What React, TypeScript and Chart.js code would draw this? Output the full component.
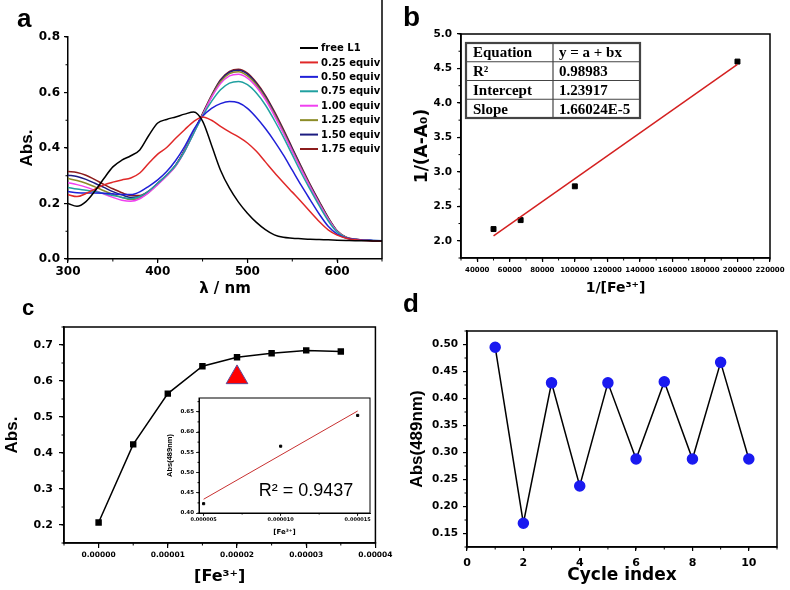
import React, { useEffect, useRef } from 'react';
import { Chart, registerables } from 'chart.js';

Chart.register(...registerables);

const SANS = '"DejaVu Sans", sans-serif';
const ARIAL = '"Liberation Sans", Arial, sans-serif';

// ---------- Panel a : UV-vis spectra ----------
const wavelengths = [300, 310, 320, 330, 340, 350, 360, 370, 380, 390, 400, 410, 420, 430, 440, 450, 460, 470, 480, 490, 500, 510, 520, 530, 540, 550, 560, 570, 580, 590, 600, 610, 620, 630, 640, 650];
const spectraLabels = ['free L1', '0.25 equiv', '0.50 equiv', '0.75 equiv', '1.00 equiv', '1.25 equiv', '1.50 equiv', '1.75 equiv'];
const spectraColors = ['#000000', '#e02828', '#2020d8', '#20a0a0', '#f040f0', '#8c8c28', '#1c1c80', '#8c1c1c'];
const absFreeL1 = [0.200, 0.190, 0.207, 0.245, 0.290, 0.332, 0.356, 0.372, 0.393, 0.445, 0.490, 0.503, 0.512, 0.522, 0.530, 0.497, 0.410, 0.320, 0.255, 0.205, 0.165, 0.132, 0.106, 0.087, 0.078, 0.075, 0.073, 0.071, 0.070, 0.069, 0.068, 0.067, 0.066, 0.066, 0.065, 0.065];
const abs025 = [0.232, 0.225, 0.236, 0.252, 0.267, 0.277, 0.285, 0.292, 0.310, 0.345, 0.378, 0.402, 0.435, 0.466, 0.495, 0.512, 0.500, 0.478, 0.458, 0.440, 0.418, 0.388, 0.350, 0.312, 0.276, 0.241, 0.206, 0.170, 0.135, 0.105, 0.086, 0.075, 0.069, 0.067, 0.065, 0.064];
const abs050 = [0.243, 0.239, 0.238, 0.238, 0.237, 0.235, 0.232, 0.232, 0.242, 0.262, 0.285, 0.315, 0.355, 0.405, 0.465, 0.514, 0.543, 0.560, 0.568, 0.563, 0.543, 0.510, 0.470, 0.425, 0.375, 0.320, 0.265, 0.213, 0.162, 0.118, 0.090, 0.076, 0.070, 0.068, 0.067, 0.066];
const abs075 = [0.258, 0.252, 0.248, 0.243, 0.236, 0.229, 0.222, 0.217, 0.225, 0.245, 0.273, 0.303, 0.338, 0.388, 0.452, 0.515, 0.568, 0.610, 0.634, 0.640, 0.628, 0.598, 0.555, 0.500, 0.440, 0.375, 0.310, 0.250, 0.192, 0.138, 0.097, 0.077, 0.070, 0.068, 0.067, 0.066];
const abs100 = [0.275, 0.268, 0.259, 0.247, 0.234, 0.222, 0.212, 0.208, 0.217, 0.239, 0.268, 0.299, 0.335, 0.388, 0.453, 0.518, 0.582, 0.632, 0.660, 0.666, 0.652, 0.620, 0.574, 0.517, 0.454, 0.388, 0.322, 0.259, 0.200, 0.144, 0.099, 0.077, 0.070, 0.068, 0.066, 0.065];
const abs125 = [0.290, 0.283, 0.273, 0.260, 0.246, 0.233, 0.222, 0.214, 0.220, 0.240, 0.270, 0.300, 0.336, 0.390, 0.455, 0.520, 0.586, 0.639, 0.668, 0.675, 0.660, 0.627, 0.581, 0.523, 0.459, 0.392, 0.326, 0.262, 0.202, 0.146, 0.100, 0.078, 0.070, 0.068, 0.066, 0.065];
const abs150 = [0.302, 0.297, 0.287, 0.273, 0.258, 0.243, 0.231, 0.222, 0.225, 0.243, 0.272, 0.302, 0.338, 0.392, 0.457, 0.522, 0.588, 0.643, 0.673, 0.680, 0.666, 0.632, 0.586, 0.528, 0.464, 0.397, 0.330, 0.265, 0.205, 0.148, 0.101, 0.078, 0.071, 0.068, 0.066, 0.065];
const abs175 = [0.315, 0.312, 0.302, 0.286, 0.269, 0.253, 0.239, 0.229, 0.229, 0.245, 0.273, 0.303, 0.338, 0.393, 0.458, 0.524, 0.590, 0.646, 0.676, 0.684, 0.670, 0.636, 0.590, 0.532, 0.468, 0.400, 0.333, 0.268, 0.208, 0.150, 0.102, 0.079, 0.071, 0.068, 0.066, 0.065];
const aXTicks = [300, 400, 500, 600];
const aYTicks = [0, 0.2, 0.4, 0.6, 0.8];

// ---------- Panel b : Benesi-Hildebrand ----------
const invFe = [50000, 66667, 100000, 200000];
const invDeltaA = [2.17, 2.30, 2.79, 4.60];
const fitInvFe = [50000, 200000];
const fitInvDeltaA = [2.07, 4.56];
const tableKeys = ['Equation', 'R²', 'Intercept', 'Slope'];
const tableValues = ['y = a + bx', '0.98983', '1.23917', '1.66024E-5'];
const bXTicks = [40000, 60000, 80000, 100000, 120000, 140000, 160000, 180000, 200000, 220000];
const bYTicks = [2.0, 2.5, 3.0, 3.5, 4.0, 4.5, 5.0];

// ---------- Panel c : titration ----------
const feConc = [0, 0.000005, 0.00001, 0.000015, 0.00002, 0.000025, 0.00003, 0.000035];
const absAtConc = [0.207, 0.424, 0.565, 0.641, 0.666, 0.677, 0.685, 0.682];
const markerConc = [0.00002];
const markerAbs = [0.61];
const cXTicks = [0, 0.00001, 0.00002, 0.00003, 0.00004];
const cYTicks = [0.2, 0.3, 0.4, 0.5, 0.6, 0.7];
const insetConc = [0.000005, 0.00001, 0.000015];
const insetAbs = [0.423, 0.565, 0.641];
const insetFitConc = [0.000005, 0.000015];
const insetFitAbs = [0.434, 0.652];
const insetXTicks = [0.000005, 0.00001, 0.000015];
const insetYTicks = [0.40, 0.45, 0.50, 0.55, 0.60, 0.65];

// ---------- Panel d : reversibility ----------
const cycles = [1, 2, 3, 4, 5, 6, 7, 8, 9, 10];
const absCycle = [0.495, 0.169, 0.429, 0.238, 0.429, 0.288, 0.431, 0.288, 0.467, 0.288];
const dXTicks = [0, 2, 4, 6, 8, 10];
const dYTicks = [0.15, 0.20, 0.25, 0.30, 0.35, 0.40, 0.45, 0.50];

const pts = (xs: number[], ys: number[]) => xs.map((x, i) => ({ x, y: ys[i] }));

const mkScale = (o: any) => ({
  type: 'linear',
  position: o.horizontal ? 'bottom' : 'left',
  min: o.min,
  max: o.max,
  afterBuildTicks: (s: any) => {
    s.ticks = o.ticks.map((v: number) => ({ value: v }));
  },
  afterFit: (s: any) => {
    if (o.horizontal) s.height = o.size;
    else s.width = o.size;
  },
  border: { display: true, color: '#000', width: o.bw ?? 1.5 },
  grid: { display: true, drawOnChartArea: false, drawTicks: true, tickLength: o.tickLen, color: '#000', lineWidth: o.tw ?? 1.2 },
  ticks: { color: '#000', font: o.font, padding: o.pad, maxRotation: 0, autoSkip: false, callback: (v: any) => o.fmt(Number(v)) },
  title: { display: true, text: o.title, color: '#000', font: o.titleFont, padding: o.titlePad },
});

const decor = (o: any) => ({
  id: 'decor',
  afterDraw(chart: any) {
    const { ctx, chartArea: a, scales } = chart;
    ctx.save();
    ctx.strokeStyle = '#000';
    ctx.lineWidth = o.frameWidth ?? 1.5;
    if (o.box) ctx.strokeRect(a.left, a.top, a.right - a.left, a.bottom - a.top);
    if (o.rightLineTop !== undefined) {
      ctx.beginPath();
      ctx.moveTo(a.right, o.rightLineTop);
      ctx.lineTo(a.right, a.bottom);
      ctx.stroke();
    }
    ctx.lineWidth = 1;
    const len = o.minorLen ?? 2.5;
    (o.minor || []).forEach((m: any) => {
      const s = scales[m.id];
      const k0 = Math.ceil(s.min / m.step - 1e-6);
      const k1 = Math.floor(s.max / m.step + 1e-6);
      for (let k = k0; k <= k1; k++) {
        const p = s.getPixelForValue(k * m.step);
        ctx.beginPath();
        if (s.isHorizontal()) {
          ctx.moveTo(p, a.bottom);
          ctx.lineTo(p, a.bottom + len);
        } else {
          ctx.moveTo(a.left, p);
          ctx.lineTo(a.left - len, p);
        }
        ctx.stroke();
      }
    });
    (o.texts || []).forEach((t: any) => {
      ctx.font = t.font;
      ctx.fillStyle = t.color || '#000';
      ctx.textAlign = t.align || 'left';
      ctx.textBaseline = t.baseline || 'alphabetic';
      ctx.fillText(t.text, t.x, t.y);
    });
    ctx.restore();
  },
});

const sideLegend = (o: any) => ({
  id: 'sideLegend',
  afterDraw(chart: any) {
    const { ctx } = chart;
    ctx.save();
    ctx.font = o.font;
    ctx.textBaseline = 'middle';
    ctx.textAlign = 'left';
    chart.data.datasets.forEach((ds: any, i: number) => {
      const y = o.y + i * o.dy;
      ctx.strokeStyle = ds.borderColor;
      ctx.lineWidth = 2;
      ctx.beginPath();
      ctx.moveTo(o.x, y);
      ctx.lineTo(o.x + o.len, y);
      ctx.stroke();
      ctx.fillStyle = '#000';
      ctx.fillText(ds.label, o.x + o.len + 3, y + 0.5);
    });
    ctx.restore();
  },
});

const fitTable = (o: any) => ({
  id: 'fitTable',
  afterDraw(chart: any) {
    const { ctx } = chart;
    const w = o.colW[0] + o.colW[1];
    const h = o.rowH * o.keys.length;
    ctx.save();
    ctx.fillStyle = '#fff';
    ctx.fillRect(o.x, o.y, w, h);
    ctx.strokeStyle = '#444';
    ctx.lineWidth = 1.2;
    for (let i = 1; i < o.keys.length; i++) {
      ctx.beginPath();
      ctx.moveTo(o.x, o.y + i * o.rowH);
      ctx.lineTo(o.x + w, o.y + i * o.rowH);
      ctx.stroke();
    }
    ctx.beginPath();
    ctx.moveTo(o.x + o.colW[0], o.y);
    ctx.lineTo(o.x + o.colW[0], o.y + h);
    ctx.stroke();
    ctx.lineWidth = 2.2;
    ctx.strokeRect(o.x, o.y, w, h);
    ctx.fillStyle = '#000';
    ctx.font = o.font;
    ctx.textBaseline = 'middle';
    ctx.textAlign = 'left';
    o.keys.forEach((k: string, i: number) => {
      const y = o.y + o.rowH * (i + 0.5) + 1;
      ctx.fillText(k, o.x + 7, y);
      ctx.fillText(o.values[i], o.x + o.colW[0] + 6, y);
    });
    ctx.restore();
  },
});

const base = (padding: any) => ({
  responsive: false,
  animation: false,
  events: [],
  layout: { padding },
});
const noLegend = { legend: { display: false }, tooltip: { enabled: false } };
const bold = (family: string, size: number) => ({ family, size, weight: 'bold' });

export default function App() {
  const aRef = useRef<HTMLCanvasElement>(null);
  const bRef = useRef<HTMLCanvasElement>(null);
  const cRef = useRef<HTMLCanvasElement>(null);
  const insetRef = useRef<HTMLCanvasElement>(null);
  const dRef = useRef<HTMLCanvasElement>(null);

  useEffect(() => {
    const charts: Chart[] = [];
    const spectra = [absFreeL1, abs025, abs050, abs075, abs100, abs125, abs150, abs175];

    charts.push(new Chart(aRef.current as HTMLCanvasElement, {
      type: 'scatter',
      data: {
        datasets: spectra.map((ys, i) => ({
          label: spectraLabels[i],
          data: pts(wavelengths, ys),
          showLine: true,
          borderColor: spectraColors[i],
          backgroundColor: spectraColors[i],
          borderWidth: 1.5,
          pointRadius: 0,
          cubicInterpolationMode: 'monotone',
        })),
      },
      options: {
        ...base({ left: 0, right: 13, top: 37, bottom: 0 }),
        plugins: noLegend,
        scales: {
          x: mkScale({ horizontal: true, min: 300, max: 650, ticks: aXTicks, fmt: (v: number) => String(v), font: bold(SANS, 12), tickLen: 4, pad: 2, size: 41, title: 'λ / nm', titleFont: bold(SANS, 15), titlePad: { top: 0, bottom: 2 } }),
          y: mkScale({ min: 0, max: 0.8, ticks: aYTicks, fmt: (v: number) => v.toFixed(1), font: bold(SANS, 12), tickLen: 4, pad: 4, size: 68, title: 'Abs.', titleFont: bold(ARIAL, 17), titlePad: { top: 17, bottom: 0 } }),
        },
      } as any,
      plugins: [
        decor({ rightLineTop: 0, minor: [{ id: 'x', step: 50 }, { id: 'y', step: 0.1 }], texts: [{ text: 'a', x: 17, y: 27, font: 'bold 26px "Liberation Sans"' }] }),
        sideLegend({ x: 300, y: 48, dy: 14.43, len: 18, font: 'bold 10px "DejaVu Sans"' }),
      ],
    } as any));

    charts.push(new Chart(bRef.current as HTMLCanvasElement, {
      type: 'scatter',
      data: {
        datasets: [
          { label: 'Linear fit', data: pts(fitInvFe, fitInvDeltaA), showLine: true, borderColor: '#d42020', borderWidth: 1.5, pointRadius: 0 },
          { label: '1/(A-A0)', data: pts(invFe, invDeltaA), showLine: false, pointStyle: 'rect', pointRadius: 3.5, backgroundColor: '#000', borderColor: '#000' },
        ],
      },
      options: {
        ...base({ left: 0, right: 20, top: 34, bottom: 0 }),
        plugins: noLegend,
        scales: {
          x: mkScale({ horizontal: true, min: 30000, max: 220000, ticks: bXTicks, fmt: (v: number) => String(v), font: bold(SANS, 7), tickLen: 4, pad: 4, size: 42, title: '1/[Fe³⁺]', titleFont: bold(SANS, 14), titlePad: { top: 0, bottom: 3 } }),
          y: mkScale({ min: 1.75, max: 5.0, ticks: bYTicks, fmt: (v: number) => v.toFixed(1), font: bold(SANS, 10.5), tickLen: 4, pad: 5, size: 66, title: '1/(A-A₀)', titleFont: bold(SANS, 17), titlePad: { top: 17, bottom: 0 } }),
        },
      } as any,
      plugins: [
        decor({ box: true, minor: [{ id: 'x', step: 10000 }, { id: 'y', step: 0.25 }], texts: [{ text: 'b', x: 8, y: 26, font: 'bold 28px "Liberation Sans"' }] }),
        fitTable({ x: 71, y: 43, colW: [87, 87], rowH: 18.75, keys: tableKeys, values: tableValues, font: 'bold 15px "Liberation Serif"' }),
      ],
    } as any));

    charts.push(new Chart(cRef.current as HTMLCanvasElement, {
      type: 'scatter',
      data: {
        datasets: [
          { label: 'Abs.', data: pts(feConc, absAtConc), showLine: true, borderColor: '#000', borderWidth: 1.5, pointStyle: 'rect', pointRadius: 3.5, backgroundColor: '#000' },
          { label: 'marker', data: pts(markerConc, markerAbs), showLine: false, pointStyle: 'triangle', pointRadius: 12.5, backgroundColor: '#ff0000', borderColor: '#5a4a9a', borderWidth: 1 },
        ],
      },
      options: {
        ...base({ left: 0, right: 11, top: 37, bottom: 0 }),
        plugins: noLegend,
        scales: {
          x: mkScale({ horizontal: true, min: -0.000005, max: 0.00004, ticks: cXTicks, fmt: (v: number) => v.toFixed(5), font: bold(SANS, 7.5), tickLen: 5, pad: 2.5, size: 47, title: '[Fe³⁺]', titleFont: bold(SANS, 16), titlePad: { top: 0, bottom: 3.5 } }),
          y: mkScale({ min: 0.15, max: 0.75, ticks: cYTicks, fmt: (v: number) => v.toFixed(1), font: bold(SANS, 11), tickLen: 5, pad: 6, size: 64, title: 'Abs.', titleFont: bold(ARIAL, 17), titlePad: { top: 2, bottom: 0 } }),
        },
      } as any,
      plugins: [
        decor({ box: true, minor: [{ id: 'x', step: 0.000005 }, { id: 'y', step: 0.05 }], texts: [{ text: 'c', x: 22, y: 25, font: 'bold 22px "Liberation Sans"' }] }),
      ],
    } as any));

    charts.push(new Chart(insetRef.current as HTMLCanvasElement, {
      type: 'scatter',
      data: {
        datasets: [
          { label: 'fit', data: pts(insetFitConc, insetFitAbs), showLine: true, borderColor: '#c83030', borderWidth: 1, pointRadius: 0 },
          { label: 'Abs(489nm)', data: pts(insetConc, insetAbs), showLine: false, pointStyle: 'rect', pointRadius: 1.5, backgroundColor: '#000', borderColor: '#000' },
        ],
      },
      options: {
        ...base({ left: 0, right: 5, top: 10, bottom: 0 }),
        plugins: noLegend,
        scales: {
          x: mkScale({ horizontal: true, min: 0.0000047, max: 0.0000158, ticks: insetXTicks, fmt: (v: number) => v.toFixed(6), font: bold(SANS, 5), tickLen: 3, pad: 1, size: 27, title: '[Fe³⁺]', titleFont: bold(SANS, 7), titlePad: { top: 0, bottom: 4 }, bw: 1, tw: 0.8 }),
          y: mkScale({ min: 0.40, max: 0.684, ticks: insetYTicks, fmt: (v: number) => v.toFixed(2), font: bold(SANS, 5.5), tickLen: 3, pad: 2, size: 39, title: 'Abs(489nm)', titleFont: bold(ARIAL, 7.5), titlePad: { top: 5.5, bottom: 0 }, bw: 1, tw: 0.8 }),
        },
      } as any,
      plugins: [
        decor({ box: true, frameWidth: 1, minorLen: 1.5, minor: [{ id: 'x', step: 0.0000025 }, { id: 'y', step: 0.025 }], texts: [{ text: 'R² = 0.9437', x: 146, y: 103, font: '18px "Liberation Sans"', align: 'center', baseline: 'middle' }] }),
      ],
    } as any));

    charts.push(new Chart(dRef.current as HTMLCanvasElement, {
      type: 'scatter',
      data: {
        datasets: [
          { label: 'Abs(489nm)', data: pts(cycles, absCycle), showLine: true, borderColor: '#000', borderWidth: 1.5, pointStyle: 'circle', pointRadius: 5, backgroundColor: '#1a1af0', pointBorderColor: '#1a1af0' },
        ],
      },
      options: {
        ...base({ left: 0, right: 13, top: 41, bottom: 0 }),
        plugins: noLegend,
        scales: {
          x: mkScale({ horizontal: true, min: 0, max: 11, ticks: dXTicks, fmt: (v: number) => String(v), font: bold(SANS, 11), tickLen: 4, pad: 5.5, size: 43, title: 'Cycle index', titleFont: bold(SANS, 17), titlePad: { top: 0, bottom: 3.8 } }),
          y: mkScale({ min: 0.125, max: 0.525, ticks: dYTicks, fmt: (v: number) => v.toFixed(2), font: bold(SANS, 10.5), tickLen: 4, pad: 5, size: 72, title: 'Abs(489nm)', titleFont: bold(ARIAL, 17), titlePad: { top: 11.8, bottom: 0 } }),
        },
      } as any,
      plugins: [
        decor({ box: true, minor: [{ id: 'x', step: 1 }, { id: 'y', step: 0.025 }], texts: [{ text: 'd', x: 8, y: 22, font: 'bold 26px "Liberation Sans"' }] }),
      ],
    } as any));

    return () => charts.forEach((c) => c.destroy());
  }, []);

  const cv = (ref: any, left: number, top: number, w: number, h: number) => (
    <canvas ref={ref} width={w} height={h} style={{ position: 'absolute', left, top, width: w, height: h }} />
  );

  return (
    <div style={{ position: 'absolute', left: 0, top: 0, width: 790, height: 590, background: '#fff', overflow: 'hidden' }}>
      {cv(aRef, 0, 0, 395, 300)}
      {cv(bRef, 395, 0, 395, 300)}
      {cv(cRef, 0, 290, 395, 300)}
      {cv(dRef, 395, 290, 395, 300)}
      {cv(insetRef, 160, 388, 215, 152)}
    </div>
  );
}
